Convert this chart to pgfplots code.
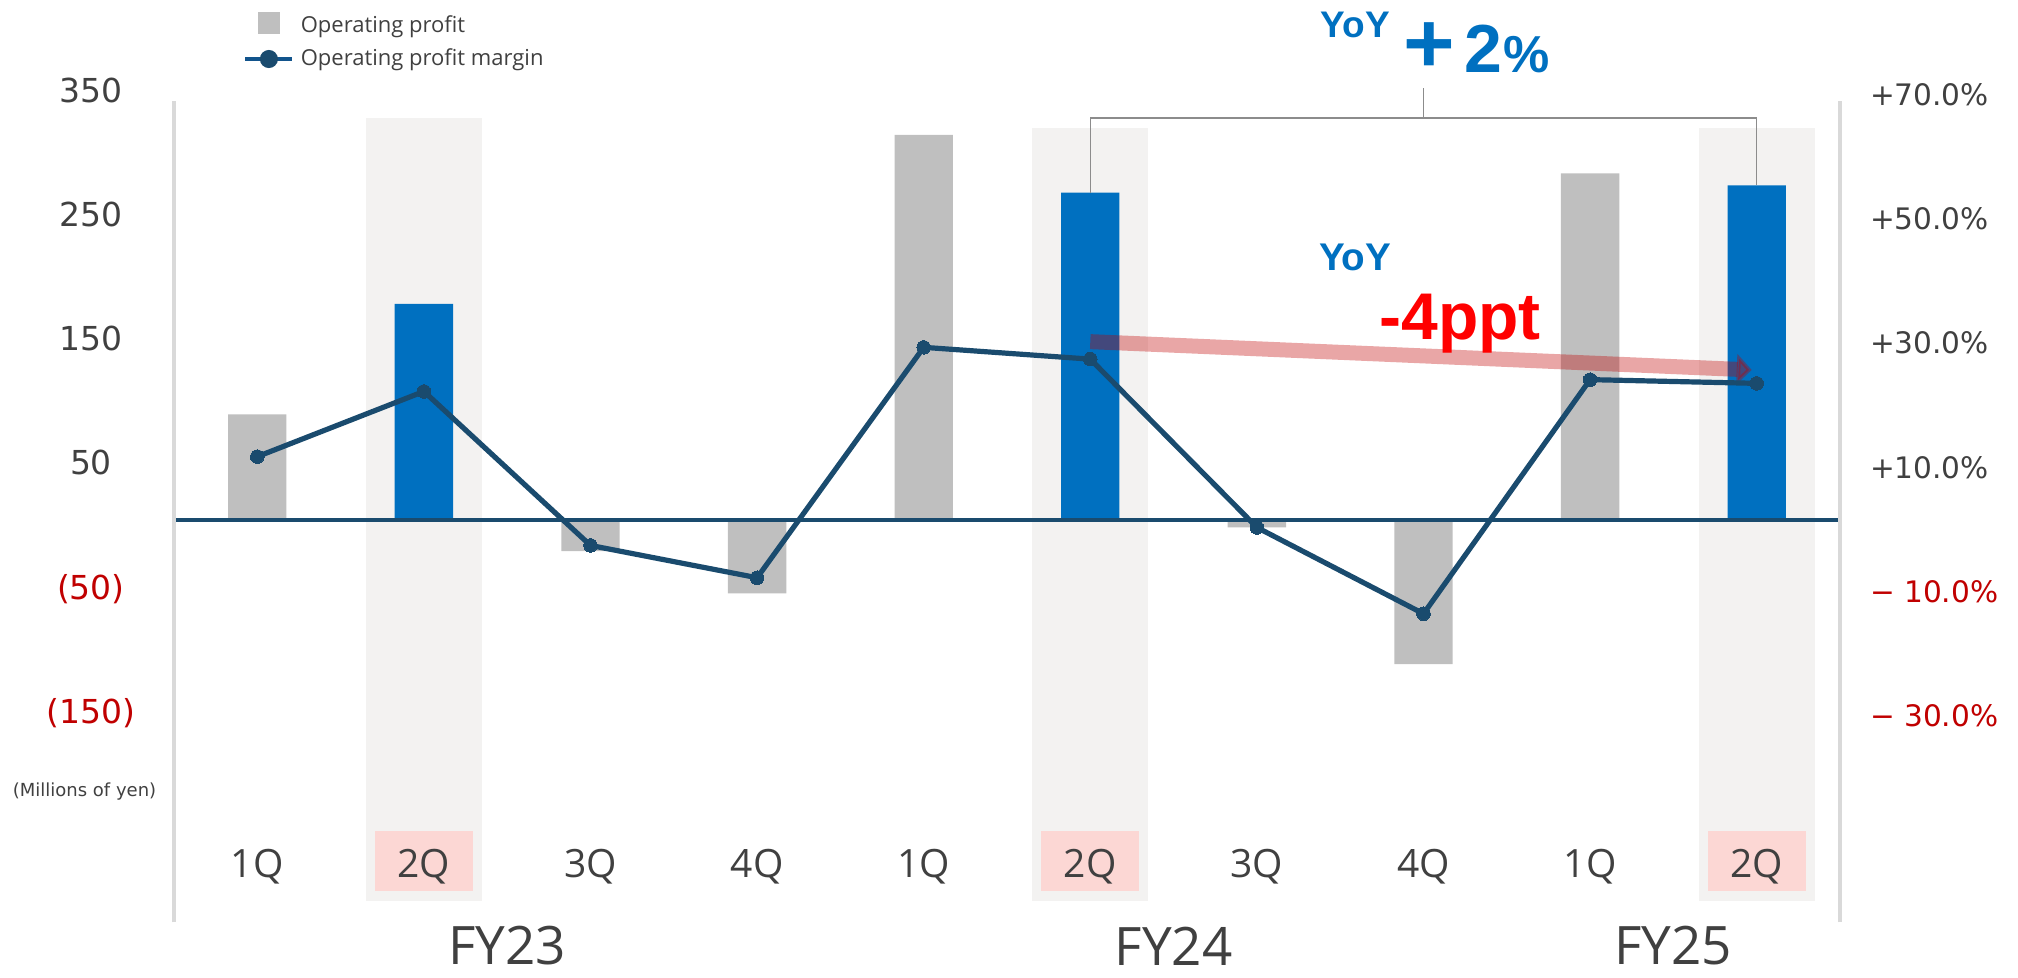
\documentclass[border=0pt]{standalone}
\usepackage{pgfplots}
\pgfplotsset{compat=1.18}
\usepackage{fontspec}
\setmainfont{DejaVu Sans}
\newfontfamily\os{Open Sans}
\newfontfamily\lib{Liberation Sans}
\usetikzlibrary{arrows.meta}
\definecolor{barGray}{HTML}{BFBFBF}
\definecolor{barBlue}{HTML}{0070C0}
\definecolor{bgGray}{HTML}{F3F2F1}
\definecolor{pinkBox}{HTML}{FCD7D4}
\definecolor{lineBlue}{HTML}{1A4B6E}
\definecolor{legBlue}{HTML}{12548C}
\definecolor{txtGray}{HTML}{404040}
\definecolor{negRed}{HTML}{C00000}
\definecolor{axGray}{HTML}{D9D9D9}
\definecolor{brGray}{HTML}{8C8C8C}
\definecolor{arrRed}{HTML}{C00000}
\begin{document}
\begin{tikzpicture}
\path[use as bounding box] (-87pt,-27.8pt) rectangle (922pt,461.2pt);
% ---------------- left axis: operating profit ----------------
\begin{axis}[
  at={(0pt,0pt)}, anchor=south west,
  scale only axis, width=833pt, height=418.55pt,
  xmin=-0.5, xmax=9.5, ymin=-324, ymax=350,
  clip=false, axis on top,
  axis line style={draw=none},
  major tick length=0pt,
  /pgf/number format/assume math mode=true,
  xtick={0,1,2,3,4,5,6,7,8,9},
  xticklabels={1Q,2Q,3Q,4Q,1Q,2Q,3Q,4Q,1Q,2Q},
  xticklabel style={anchor=base, inner sep=0pt, yshift=22.6pt,
    font=\os\fontsize{19.5}{20}\selectfont, text=txtGray},
  ytick={-150,-50,50,150,250,350},
  yticklabels={\textcolor{negRed}{(150)},\textcolor{negRed}{(50)},50,150,250,350},
  yticklabel style={anchor=base, inner sep=0pt, xshift=-41.5pt, yshift=-8.5pt,
    font=\fontsize{16.5}{18}\selectfont, text=txtGray},
]
% highlighted 2Q backgrounds
\fill[bgGray] (axis cs:0.653,-306.7) rectangle (axis cs:1.347,324);
\fill[bgGray] (axis cs:4.653,-306.7) rectangle (axis cs:5.347,316);
\fill[bgGray] (axis cs:8.653,-306.7) rectangle (axis cs:9.347,316);
\fill[pinkBox] (axis cs:0.706,-250.4) rectangle (axis cs:1.294,-298.7);
\fill[pinkBox] (axis cs:4.706,-250.4) rectangle (axis cs:5.294,-298.7);
\fill[pinkBox] (axis cs:8.706,-250.4) rectangle (axis cs:9.294,-298.7);
% bars
\addplot[ybar, bar width=0.35, bar shift=0pt, fill=barGray, draw=none]
  coordinates {(0,85) (2,-25) (3,-59) (4,310) (6,-6) (7,-116) (8,279)};
\addplot[ybar, bar width=0.35, bar shift=0pt, fill=barBlue, draw=none]
  coordinates {(1,174) (5,263.5) (9,269.5)};
% zero line and side axis lines
\draw[lineBlue, line width=1.6pt] (axis cs:-0.5,0) -- (axis cs:9.5,0);
\draw[axGray, line width=2pt] (axis cs:-0.5,-324) -- (axis cs:-0.5,337);
\draw[axGray, line width=2pt] (axis cs:9.5,-324) -- (axis cs:9.5,337);
% YoY bracket
\draw[brGray, line width=0.75pt] (axis cs:5,263.5) -- (axis cs:5,323.7) -- (axis cs:9,323.7) -- (axis cs:9,269.5);
\draw[brGray, line width=0.75pt] (axis cs:7,323.7) -- (axis cs:7,347.8);
% margin arrow
\draw[arrRed, opacity=0.35, line width=7.5pt, -{Triangle[length=7.5pt,width=15pt]}]
  (axis cs:5.0,143.6) -- (axis cs:8.97,120.8);
% annotations
\node[inner sep=0pt, text=barBlue, font=\lib\bfseries\fontsize{18.5}{20}\selectfont] at (axis cs:6.59,398.6) {YoY};
\node[anchor=base west, inner sep=0pt, text=barBlue, font=\lib\bfseries] at (axis cs:6.88,360.7)
  {\fontsize{34}{36}\selectfont\scalebox{1.3}[1.25]{+}\kern4.5pt 2\kern0.5pt\fontsize{26}{27}\selectfont\%};
\node[inner sep=0pt, text=barBlue, font=\lib\bfseries\fontsize{19.3}{20}\selectfont] at (axis cs:6.59,211.4) {YoY};
\node[anchor=base, inner sep=0pt, text=red, font=\lib\bfseries\fontsize{33}{34}\selectfont] at (axis cs:7.22,145) {-4ppt};
% fiscal years
\node[inner sep=0pt, text=txtGray, font=\os\fontsize{26.5}{28}\selectfont] at (axis cs:1.5,-343) {FY23};
\node[inner sep=0pt, text=txtGray, font=\os\fontsize{26.5}{28}\selectfont] at (axis cs:5.5,-343) {FY24};
\node[inner sep=0pt, text=txtGray, font=\os\fontsize{26.5}{28}\selectfont] at (axis cs:8.5,-343) {FY25};
\node[inner sep=0pt, text=txtGray, font=\fontsize{9}{10}\selectfont] at (axis cs:-1.037,-219) {(Millions of yen)};
\end{axis}
% ---------------- right axis: operating profit margin ----------------
\begin{axis}[
  at={(0pt,0pt)}, anchor=south west,
  scale only axis, width=833pt, height=418.55pt,
  xmin=-0.5, xmax=9.5, ymin=-64.8, ymax=70,
  clip=false,
  axis y line*=right, axis x line=none,
  axis line style={draw=none},
  major tick length=0pt,
  /pgf/number format/assume math mode=true,
  ytick={-30,-10,10,30,50,70},
  yticklabels={\textcolor{negRed}{− 30.0\%},\textcolor{negRed}{− 10.0\%},+10.0\%,+30.0\%,+50.0\%,+70.0\%},
  yticklabel style={anchor=base west, inner sep=0pt, xshift=14.85pt, yshift=-10.15pt,
    font=\fontsize{14.8}{17}\selectfont, text=txtGray},
  legend style={at={(rel axis cs:0,1)}, anchor=north west, xshift=34.5pt, yshift=36.5pt,
    draw=none, fill=none, inner sep=0pt, outer sep=0pt,
    row sep=7pt, column sep=3pt,
    font=\os\fontsize{11}{13}\selectfont, text=txtGray,
    nodes={inner sep=0pt}},
  legend cell align=left,
]
\addlegendimage{legend image code/.code={\fill[barGray] (6.25pt,-4.25pt) rectangle (16.75pt,6.25pt);}}
\addlegendentry{Operating profit}
\addplot[lineBlue, line width=2.6pt, mark=*, mark size=3.4pt,
  mark options={fill=lineBlue, draw=lineBlue, line width=0pt},
  legend image code/.code={\draw[legBlue, line width=2.4pt] (0pt,0pt) -- (23.5pt,0pt);
    \fill[lineBlue] (11.75pt,0pt) circle (3.2pt);}]
  coordinates {(0,10.2) (1,20.7) (2,-4.1) (3,-9.3) (4,27.8) (5,25.9) (6,-1.2) (7,-15.1) (8,22.6) (9,22.0)};
\addlegendentry{Operating profit margin}
\end{axis}
\end{tikzpicture}
\end{document}
